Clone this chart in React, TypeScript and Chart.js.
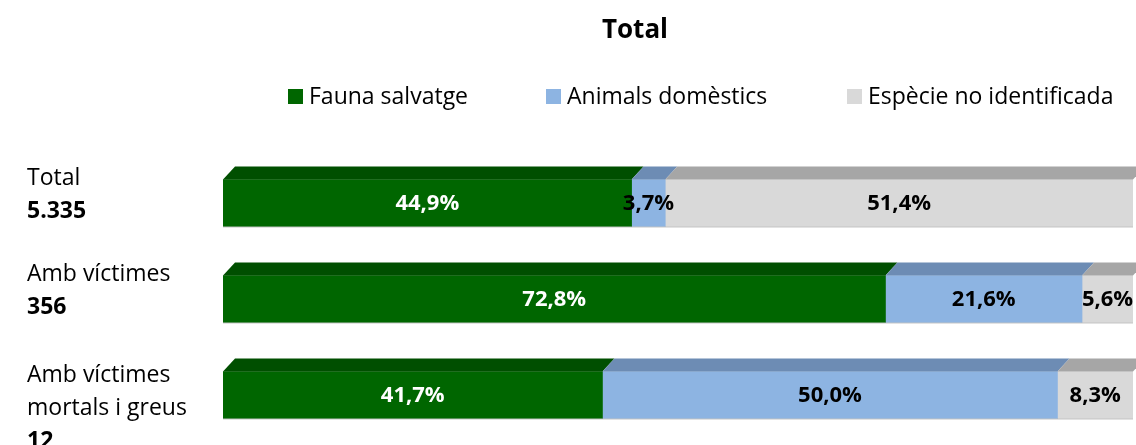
import React, { useEffect, useRef } from "react";
import { Chart, registerables } from "chart.js";

Chart.register(...registerables);

const titleText = "Total";
const categoryNames: string[][] = [["Total"], ["Amb víctimes"], ["Amb víctimes", "mortals i greus"]];
const categoryTotals = ["5.335", "356", "12"];
const seriesNames = ["Fauna salvatge", "Animals domèstics", "Espècie no identificada"];
const faunaSalvatge = [44.9, 72.8, 41.7];
const animalsDomestics = [3.7, 21.6, 50.0];
const especieNoIdentificada = [51.4, 5.6, 8.3];

const frontColors = ["#006600", "#8db4e2", "#d9d9d9"];
const topColors = ["#004f00", "#6d8cb4", "#a6a6a6"];
const labelColors = ["#ffffff", "#000000", "#000000"];

const FONT = "'Open Sans', 'Noto Sans', sans-serif";

const fmt = (v: number) => v.toFixed(1).replace(".", ",") + "%";

const depthPlugin = {
  id: "depth3d",
  afterDatasetsDraw(chart: any) {
    const ctx = chart.ctx;
    const dx = 12;
    const dy = 13;
    ctx.save();
    chart.data.datasets.forEach((ds: any, i: number) => {
      const meta = chart.getDatasetMeta(i);
      meta.data.forEach((bar: any) => {
        const p = bar.getProps(["x", "y", "base", "height"], true);
        const left = Math.min(p.base, p.x);
        const right = Math.max(p.base, p.x);
        const top = p.y - p.height / 2;
        ctx.beginPath();
        ctx.moveTo(left, top);
        ctx.lineTo(left + dx, top - dy);
        ctx.lineTo(right + dx, top - dy);
        ctx.lineTo(right, top);
        ctx.closePath();
        ctx.fillStyle = topColors[i];
        ctx.fill();
      });
    });
    const meta0 = chart.getDatasetMeta(0);
    meta0.data.forEach((bar: any) => {
      const p = bar.getProps(["y", "height"], true);
      ctx.fillStyle = "rgba(160,160,160,0.6)";
      ctx.fillRect(chart.chartArea.left, p.y + p.height / 2, chart.chartArea.right - chart.chartArea.left, 1);
    });
    ctx.restore();
  },
  afterDraw(chart: any) {
    const ctx = chart.ctx;
    ctx.save();
    // data labels
    ctx.textAlign = "center";
    ctx.textBaseline = "middle";
    ctx.font = `bold 22px ${FONT}`;
    chart.data.datasets.forEach((ds: any, i: number) => {
      const meta = chart.getDatasetMeta(i);
      meta.data.forEach((bar: any, j: number) => {
        const p = bar.getProps(["x", "y", "base"], true);
        const cx = (p.x + p.base) / 2;
        ctx.fillStyle = labelColors[i];
        ctx.fillText(fmt(ds.data[j]), cx, p.y + 1);
      });
    });
    // category labels
    ctx.textAlign = "left";
    ctx.textBaseline = "alphabetic";
    const yScale = chart.scales.y;
    categoryNames.forEach((lines, j) => {
      const cy = yScale.getPixelForValue(j);
      const all = [...lines, categoryTotals[j]];
      const first = cy - 18 + (all.length - 2) * 4.5;
      all.forEach((t, k) => {
        const bold = k === all.length - 1;
        ctx.font = `${bold ? "bold " : ""}23px ${FONT}`;
        ctx.fillStyle = "#000000";
        ctx.fillText(t, 27, first + k * 33);
      });
    });
    // title
    ctx.textAlign = "center";
    ctx.font = `bold 26px ${FONT}`;
    ctx.fillText(titleText, 635, 38);
    // legend
    const boxX = [288, 546, 847];
    ctx.textAlign = "left";
    ctx.font = `23px ${FONT}`;
    seriesNames.forEach((name, i) => {
      ctx.fillStyle = frontColors[i];
      ctx.fillRect(boxX[i], 89, 15, 15);
      ctx.fillStyle = "#000000";
      ctx.fillText(name, boxX[i] + 21, 104);
    });
    ctx.restore();
  },
};

export default function App() {
  const ref = useRef<HTMLCanvasElement | null>(null);
  useEffect(() => {
    if (!ref.current) return;
    const chart = new Chart(ref.current, {
      type: "bar",
      data: {
        labels: categoryNames.map((l) => l.join(" ")),
        datasets: [
          { label: seriesNames[0], data: faunaSalvatge, backgroundColor: frontColors[0] },
          { label: seriesNames[1], data: animalsDomestics, backgroundColor: frontColors[1] },
          { label: seriesNames[2], data: especieNoIdentificada, backgroundColor: frontColors[2] },
        ].map((d) => ({ ...d, barThickness: 47, borderWidth: 0 })),
      },
      options: {
        indexAxis: "y",
        animation: false,
        responsive: true,
        maintainAspectRatio: false,
        layout: { padding: { left: 223, right: 3, top: 155, bottom: 2 } },
        scales: {
          x: { stacked: true, min: 0, max: 100, display: false },
          y: { stacked: true, display: false },
        },
        plugins: {
          legend: { display: false },
          title: { display: false },
          tooltip: { enabled: false },
        },
      },
      plugins: [depthPlugin],
    } as any);
    return () => chart.destroy();
  }, []);
  return (
    <div style={{ position: "absolute", left: 0, top: 0, width: 1136, height: 445, background: "#ffffff" }}>
      <canvas ref={ref} />
    </div>
  );
}
